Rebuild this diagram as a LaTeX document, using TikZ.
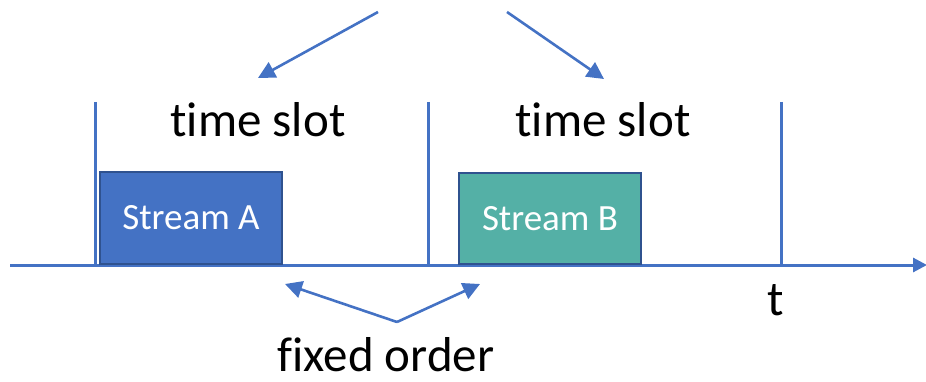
\documentclass[tikz,border=0pt]{standalone}
\usepackage{fontspec}
\setmainfont[Ligatures=NoCommon]{Carlito}
\usetikzlibrary{arrows.meta}
\definecolor{lineblue}{HTML}{4472C4}
\definecolor{edgeblue}{HTML}{2F528F}
\definecolor{streamteal}{HTML}{54B0A6}
\tikzset{
  axisline/.style={draw=lineblue, line width=3pt},
  pointer/.style={draw=lineblue, line width=2.6pt, -{Triangle[length=17pt,width=17pt]}},
  streambox/.style={draw=edgeblue, line width=2pt, minimum width=182pt, minimum height=91pt,
    inner sep=0pt, text=white, font=\fontsize{37}{44}\selectfont},
  bigtext/.style={inner sep=0pt, font=\fontsize{49}{58}\selectfont}
}
\begin{document}
\begin{tikzpicture}[x=1pt,y=-1pt]
  \useasboundingbox (0,0) rectangle (926,382);
  % time axis and slot boundaries
  \coordinate (ax0) at (10,265);
  \coordinate (ax1) at (927,265);
  \draw[axisline, -{Triangle[length=14pt,width=14pt]}] (ax0) -- (ax1);
  \coordinate (s1t) at (95,102);  \coordinate (s1b) at (95,265);
  \coordinate (s2t) at (428,102); \coordinate (s2b) at (428,265);
  \coordinate (s3t) at (781,102); \coordinate (s3b) at (781,265);
  \draw[axisline] (s1t) -- (s1b);
  \draw[axisline] (s2t) -- (s2b);
  \draw[axisline] (s3t) -- (s3b);
  % streams
  \node[streambox, fill=lineblue] (sa) at (191,218) {Stream A};
  \node[streambox, fill=streamteal] (sb) at (550,218.5) {Stream B};
  % labels
  \node[bigtext] (ts1) at (258,120) {time slot};
  \node[bigtext] (ts2) at (603,120) {time slot};
  \node[bigtext] (fo) at (386,355) {fixed order};
  \node[bigtext] (t) at (776,300) {t};
  % pointers
  \coordinate (tl0) at (378,12);  \coordinate (tl1) at (258,78);
  \coordinate (tr0) at (507,12);  \coordinate (tr1) at (604,79);
  \draw[pointer] (tl0) -- (tl1);
  \draw[pointer] (tr0) -- (tr1);
  \coordinate (fo0) at (397,322);
  \coordinate (fl) at (285,284);  \coordinate (fr) at (480,284);
  \draw[pointer] (fo0) -- (fl);
  \draw[pointer] (fo0) -- (fr);
\end{tikzpicture}
\end{document}
